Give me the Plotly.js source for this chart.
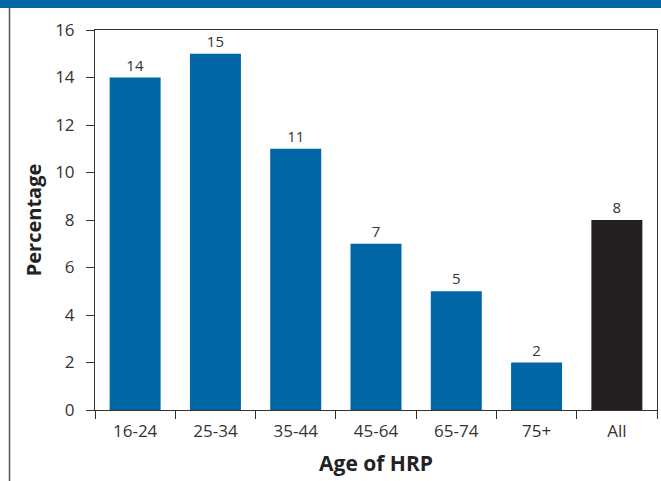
<!DOCTYPE html>
<html>
<head>
<meta charset="utf-8">
<script src="https://cdn.plot.ly/plotly-3.0.1.min.js"></script>
<style>
html,body{margin:0;padding:0;background:#fff;}
#chart{width:661px;height:481px;}
</style>
</head>
<body>
<div id="chart"></div>
<script>
const categories = ["16-24", "25-34", "35-44", "45-64", "65-74", "75+", "All"];
const values = [14, 15, 11, 7, 5, 2, 8];
const barColors = ["#0066a6", "#0066a6", "#0066a6", "#0066a6", "#0066a6", "#0066a6", "#231f20"];
const yTicks = [0, 2, 4, 6, 8, 10, 12, 14, 16];

const W = 661, H = 481;
const m = {l: 95, r: 4, t: 30, b: 71};
const pw = W - m.l - m.r, ph = H - m.t - m.b;
const px = v => (v - m.l) / pw;
const py = v => (H - m.b - v) / ph;

const trace = {
  type: "bar",
  x: categories,
  y: values,
  marker: {color: barColors, line: {width: 0}},
  text: values.map(String),
  textposition: "outside",
  cliponaxis: false,
  textfont: {family: "Open Sans, sans-serif", size: 15, color: "#333"},
  hoverinfo: "none"
};

const layout = {
  width: W, height: H,
  margin: m,
  paper_bgcolor: "#fff",
  plot_bgcolor: "#fff",
  bargap: 0.365,
  showlegend: false,
  font: {family: "Open Sans, sans-serif", color: "#333"},
  xaxis: {
    type: "category",
    showgrid: false,
    showline: true, linecolor: "#333", linewidth: 1,
    mirror: true,
    ticks: "outside", tickson: "boundaries", ticklen: 8, tickcolor: "#333",
    ticklabelstandoff: 6,
    tickfont: {size: 17, color: "#333"},
    title: {text: "Age of HRP", font: {size: 21, color: "#222", weight: "bold"}, standoff: 14},
    fixedrange: true
  },
  yaxis: {
    range: [0, 16],
    tickvals: yTicks,
    showgrid: false, zeroline: false,
    showline: true, linecolor: "#333", linewidth: 1,
    mirror: true,
    ticks: "outside", ticklen: 8, tickcolor: "#333",
    ticklabelstandoff: 8,
    tickfont: {size: 17, color: "#333"},
    title: {text: "Percentage", font: {size: 20, color: "#222", weight: "bold"}, standoff: 8},
    fixedrange: true
  },
  shapes: [
    {type: "rect", xref: "paper", yref: "paper",
     x0: px(0), x1: px(W), y0: py(8), y1: py(0),
     fillcolor: "#0066a6", line: {width: 0}, layer: "above"},
    {type: "line", xref: "paper", yref: "paper",
     x0: px(9.5), x1: px(9.5), y0: py(8), y1: py(H),
     line: {color: "#555", width: 1.5}}
  ]
};

Plotly.newPlot("chart", [trace], layout, {displayModeBar: false, staticPlot: true});
</script>
</body>
</html>
